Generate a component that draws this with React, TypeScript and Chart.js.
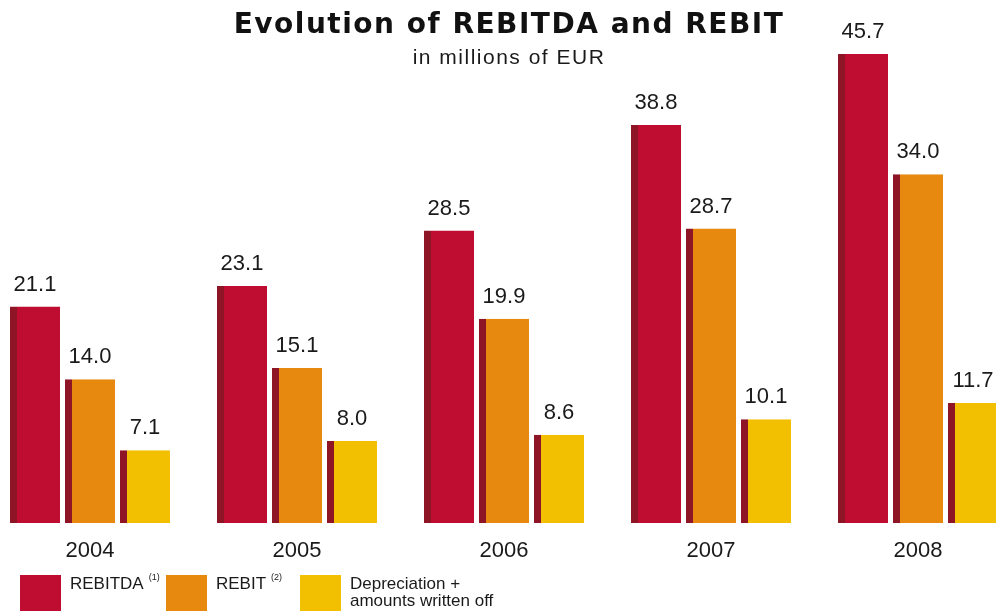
import React, { useEffect, useRef } from "react";
import { Chart, registerables } from "chart.js";

Chart.register(...registerables);

const years = ["2004", "2005", "2006", "2007", "2008"];
const rebitda = [21.1, 23.1, 28.5, 38.8, 45.7];
const rebit = [14.0, 15.1, 19.9, 28.7, 34.0];
const depreciation = [7.1, 8.0, 8.6, 10.1, 11.7];

const titleText = "Evolution of REBITDA and REBIT";
const subtitleText = "in millions of EUR";

const RED = "#be0d30";
const ORANGE = "#e8890f";
const YELLOW = "#f2c000";
const STRIPE = "#8e1526";
const TEXT = "#1a1a1a";

const OFFSET = 14; // canvas starts 14px left of the page

const textPlugin = {
  id: "textPlugin",
  afterDatasetsDraw(chart: any) {
    const ctx = chart.ctx;
    ctx.save();
    ctx.fillStyle = TEXT;
    // value labels
    ctx.font = "22px 'Liberation Sans', Arial, sans-serif";
    ctx.textAlign = "center";
    ctx.textBaseline = "alphabetic";
    chart.data.datasets.forEach((ds: any, di: number) => {
      const meta = chart.getDatasetMeta(di);
      meta.data.forEach((bar: any, i: number) => {
        const v = ds.data[i] as number;
        ctx.fillText(v.toFixed(1), bar.x, bar.y - 16);
      });
    });
    // year labels
    const xs = chart.scales.x;
    years.forEach((y, i) => {
      ctx.fillText(y, xs.getPixelForValue(i), 557);
    });

    ctx.translate(OFFSET, 0);
    // title
    (ctx as any).letterSpacing = "1.5px";
    ctx.font = "bold 28px 'DejaVu Sans', sans-serif";
    ctx.fillStyle = "#111";
    ctx.fillText(titleText, 509, 33);
    (ctx as any).letterSpacing = "1.5px";
    ctx.font = "21px 'Liberation Sans', Arial, sans-serif";
    ctx.fillStyle = TEXT;
    ctx.fillText(subtitleText, 509, 64);
    (ctx as any).letterSpacing = "0px";

    // legend
    const items = [
      { color: RED, x: 20, label: ["REBITDA"], sup: "(1)" },
      { color: ORANGE, x: 166, label: ["REBIT"], sup: "(2)" },
      { color: YELLOW, x: 300, label: ["Depreciation +", "amounts written off"], sup: "" },
    ];
    ctx.textAlign = "left";
    items.forEach((it) => {
      ctx.fillStyle = it.color;
      ctx.fillRect(it.x, 575, 41, 40);
      ctx.fillStyle = TEXT;
      ctx.font = "17px 'Liberation Sans', Arial, sans-serif";
      it.label.forEach((l, li) => {
        ctx.fillText(l, it.x + 50, 589 + li * 17);
      });
      if (it.sup) {
        const w = ctx.measureText(it.label[0]).width;
        ctx.font = "9px 'Liberation Sans', Arial, sans-serif";
        ctx.fillText(it.sup, it.x + 50 + w + 5, 580);
      }
    });
    ctx.restore();
  },
};

export default function App() {
  const ref = useRef<HTMLCanvasElement | null>(null);
  useEffect(() => {
    if (!ref.current) return;
    const mk = (label: string, data: number[], color: string) => ({
      label,
      data,
      backgroundColor: color,
      borderColor: STRIPE,
      borderWidth: { left: 7, right: 0, top: 0, bottom: 0 },
      borderSkipped: false,
      categoryPercentage: 165 / 207,
      barPercentage: 50 / 55,
    });
    const chart = new Chart(ref.current, {
      type: "bar",
      data: {
        labels: years,
        datasets: [
          mk("REBITDA", rebitda, RED),
          mk("REBIT", rebit, ORANGE),
          mk("Depreciation + amounts written off", depreciation, YELLOW),
        ],
      },
      options: {
        responsive: false,
        animation: false,
        layout: { padding: { top: 10, bottom: 88, left: 0.5, right: 0.5 } },
        plugins: { legend: { display: false }, tooltip: { enabled: false }, title: { display: false } },
        scales: {
          x: { display: false, grid: { display: false } },
          y: { display: false, min: 0, max: 50 },
        },
      },
      plugins: [textPlugin],
    } as any);
    return () => chart.destroy();
  }, []);
  return (
    <div style={{ position: "fixed", left: 0, top: 0, width: 996, height: 611, overflow: "hidden", background: "#fff" }}>
      <canvas
        ref={ref}
        width={1036}
        height={611}
        style={{ position: "absolute", left: -OFFSET, top: 0, width: 1036, height: 611 }}
      />
    </div>
  );
}
